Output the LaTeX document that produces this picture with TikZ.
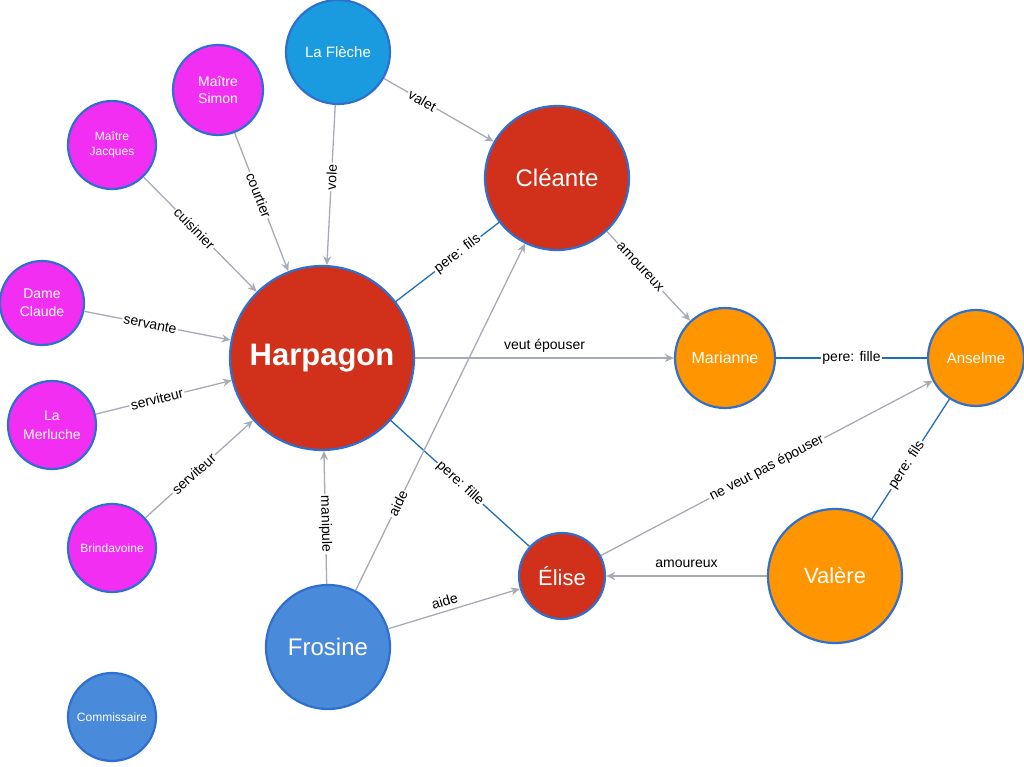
\documentclass[tikz,border=0pt]{standalone}
\usepackage{fontspec}
\setmainfont{Liberation Sans}
\usetikzlibrary{arrows.meta}
\definecolor{cred}{HTML}{D1301A}
\definecolor{corange}{HTML}{FF9500}
\definecolor{cmag}{HTML}{F22EF2}
\definecolor{clblue}{HTML}{1A9BE0}
\definecolor{cblue}{HTML}{4A8ADA}
\definecolor{cstroke}{HTML}{2E6FD0}
\definecolor{cgray}{HTML}{A6ABB6}
\definecolor{cline}{HTML}{1F6FB5}
\tikzset{
 pers/.style={circle,draw=cstroke,line width=2.2pt,text=white,align=center,inner sep=0pt},
 arr/.style={draw=cgray,line width=1.3pt,-{Stealth[length=9pt,width=8pt]}},
 rel/.style={draw=cline,line width=1.3pt},
 lab/.style={sloped,fill=white,inner sep=1.5pt,font=\fontsize{14}{15}\selectfont,text=black}
}
\begin{document}
\begin{tikzpicture}[x=1pt,y=-1pt]
\useasboundingbox (0,0) rectangle (1024,767);
\node[pers,fill=clblue,minimum size=104pt,font=\fontsize{15}{17}\selectfont] (fl) at (338,52) {La Flèche};
\node[pers,fill=cmag,minimum size=90pt,font=\fontsize{14}{17}\selectfont] (ms) at (218,90) {Maître\\Simon};
\node[pers,fill=cmag,minimum size=88pt,font=\fontsize{12}{15}\selectfont] (mj) at (112,145) {Maître\\Jacques};
\node[pers,fill=cmag,minimum size=84pt,font=\fontsize{14}{18}\selectfont] (dc) at (42,303) {Dame\\Claude};
\node[pers,fill=cmag,minimum size=88pt,font=\fontsize{14}{19}\selectfont] (lm) at (52,425) {La\\Merluche};
\node[pers,fill=cmag,minimum size=88pt,font=\fontsize{12}{14}\selectfont] (br) at (112,548) {Brindavoine};
\node[pers,fill=cblue,minimum size=88pt,font=\fontsize{12}{14}\selectfont] (co) at (112,717) {Commissaire};
\node[pers,fill=cred,minimum size=184pt,font=\fontsize{31}{34}\selectfont\bfseries] (ha) at (322,358) {Harpagon};
\node[pers,fill=cred,minimum size=144pt,font=\fontsize{24}{28}\selectfont] (cl) at (557,178) {Cléante};
\node[pers,fill=corange,minimum size=100pt,font=\fontsize{16}{18}\selectfont] (ma) at (725,358) {Marianne};
\node[pers,fill=corange,minimum size=96pt,font=\fontsize{15}{17}\selectfont] (an) at (976,358) {Anselme};
\node[pers,fill=cred,minimum size=86pt,font=\fontsize{22}{26}\selectfont] (el) at (562,576) {Élise};
\node[pers,fill=corange,minimum size=134pt,font=\fontsize{22}{26}\selectfont] (va) at (835,576) {Valère};
\node[pers,fill=cblue,minimum size=124pt,font=\fontsize{24}{28}\selectfont] (fr) at (328,647) {Frosine};

\path[arr] (fl) -- node[lab,pos=0.35]{valet} (cl);
\path[arr] (fl) -- node[lab,pos=0.45]{vole} (ha);
\path[arr] (ms) -- node[lab,pos=0.45]{courtier} (ha);
\path[arr] (mj) -- node[lab,pos=0.45]{cuisinier} (ha);
\path[arr] (dc) -- node[lab,pos=0.45]{servante} (ha);
\path[arr] (lm) -- node[lab,pos=0.45]{serviteur} (ha);
\path[arr] (br) -- node[lab,pos=0.45]{serviteur} (ha);
\path[rel] (ha) -- node[lab,pos=0.6]{pere: fils} (cl);
\path[arr] (cl) -- node[lab,pos=0.4]{amoureux} (ma);
\path[arr] (ha) -- node[lab,pos=0.5,yshift=12pt,fill=none]{veut épouser} (ma);
\path[rel] (ma) -- node[lab]{pere: fille} (an);
\path[rel] (ha) -- node[lab,pos=0.5]{pere: fille} (el);
\path[arr] (el) -- node[lab,pos=0.5]{ne veut pas épouser} (an);
\path[rel] (va) -- node[lab,pos=0.45]{pere: fils} (an);
\path[arr] (va) -- node[lab,pos=0.5,yshift=12pt,fill=none]{amoureux} (el);
\path[arr] (fr) -- node[lab,pos=0.45]{manipule} (ha);
\path[arr] (fr) -- node[lab,pos=0.25]{aide} (cl);
\path[arr] (fr) -- node[lab,pos=0.45,yshift=10pt,fill=none]{aide} (el);
\end{tikzpicture}
\end{document}
